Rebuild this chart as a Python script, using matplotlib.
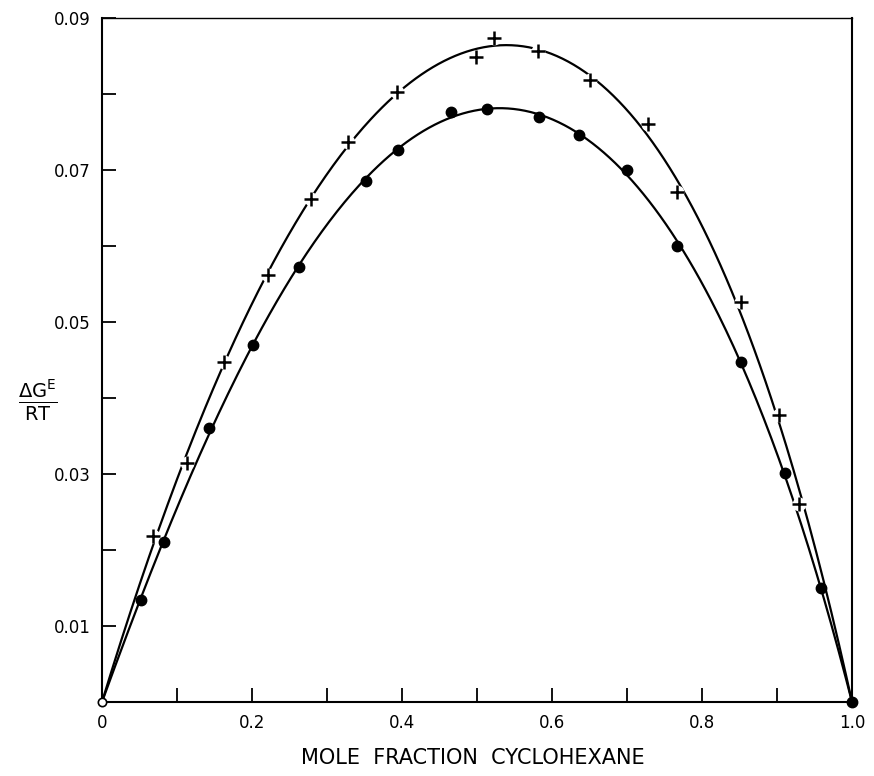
import numpy as np
import matplotlib
matplotlib.use("Agg")
import matplotlib.pyplot as plt

# Data (mole fraction cyclohexane, GE/RT)
dot_x = [0.052, 0.083, 0.143, 0.201, 0.263, 0.352, 0.394, 0.465, 0.513,
         0.583, 0.636, 0.700, 0.767, 0.852, 0.910, 0.958, 1.0]
dot_y = [0.0134, 0.0211, 0.0361, 0.0470, 0.0573, 0.0686, 0.0726, 0.0776, 0.0780,
         0.0770, 0.0746, 0.0700, 0.0600, 0.0447, 0.0301, 0.0150, 0.0]

plus_x = [0.068, 0.113, 0.163, 0.221, 0.278, 0.328, 0.393, 0.499, 0.523,
          0.581, 0.650, 0.728, 0.766, 0.852, 0.902, 0.929]
plus_y = [0.0218, 0.0314, 0.0448, 0.0562, 0.0662, 0.0737, 0.0802, 0.0849, 0.0874,
          0.0856, 0.0818, 0.0760, 0.0671, 0.0526, 0.0378, 0.0260]

xticks = [0.0, 0.1, 0.2, 0.3, 0.4, 0.5, 0.6, 0.7, 0.8, 0.9, 1.0]
xticklabels = ["0", "", "0.2", "", "0.4", "", "0.6", "", "0.8", "", "1.0"]
yticks = [0.01, 0.02, 0.03, 0.04, 0.05, 0.06, 0.07, 0.08, 0.09]
yticklabels = ["0.01", "", "0.03", "", "0.05", "", "0.07", "", "0.09"]


def rk_fit(xs, ys, n=4):
    xs = np.asarray(xs); ys = np.asarray(ys)
    A = np.column_stack([xs * (1 - xs) * (2 * xs - 1) ** k for k in range(n)])
    coef, *_ = np.linalg.lstsq(A, ys, rcond=None)
    return coef


def rk_eval(coef, xs):
    return sum(c * xs * (1 - xs) * (2 * xs - 1) ** k for k, c in enumerate(coef))


plt.rcParams['font.family'] = ['DejaVu Sans']
fig = plt.figure(figsize=(8.74, 7.76), dpi=100)
ax = fig.add_axes([102 / 874, 1 - 702 / 776, 750 / 874, 684 / 776])

xx = np.linspace(0, 1, 400)
c_dot = rk_fit(dot_x[:-1], dot_y[:-1], n=5)
c_plus = rk_fit(plus_x, plus_y, n=4)

ax.plot(xx, rk_eval(c_dot, xx), color="black", lw=1.6, zorder=2)
ax.plot(xx, rk_eval(c_plus, xx), color="black", lw=1.6, zorder=2)

# white halos for the gaps in the upper curve around the + marks
ax.plot(plus_x, plus_y, ls="none", marker="o", ms=9, mfc="white", mec="white", zorder=3)
ax.plot(plus_x, plus_y, ls="none", marker="+", ms=10, mew=1.8, color="black", zorder=4)
ax.plot(dot_x, dot_y, ls="none", marker="o", ms=7.5, color="black", zorder=4, clip_on=False)
ax.plot([0.0], [0.0], ls="none", marker="o", ms=6, mfc="white", mec="black", mew=1.2,
        zorder=4, clip_on=False)

ax.set_xlim(0, 1.0)
ax.set_ylim(0, 0.09)
ax.set_xticks(xticks)
ax.set_xticklabels(xticklabels)
ax.set_yticks(yticks)
ax.set_yticklabels(yticklabels)
ax.tick_params(direction="in", length=10, width=1.3, labelsize=12)
ax.tick_params(axis="x", pad=9)
ax.tick_params(axis="y", pad=8)
for s in ax.spines.values():
    s.set_linewidth(1.5)
ax.spines["top"].set_linewidth(1.0)

fig.text(0.5 * (102 + 852) / 874 - 0.005, 1 - 758 / 776, "MOLE  FRACTION  CYCLOHEXANE",
         ha="center", va="center", fontsize=15)
fig.text(38 / 874, 1 - 400 / 776, r"$\frac{\Delta\mathrm{G}^{\mathrm{E}}}{\mathrm{RT}}$",
         ha="center", va="center", fontsize=20)

fig.savefig("out.png", dpi=100)
